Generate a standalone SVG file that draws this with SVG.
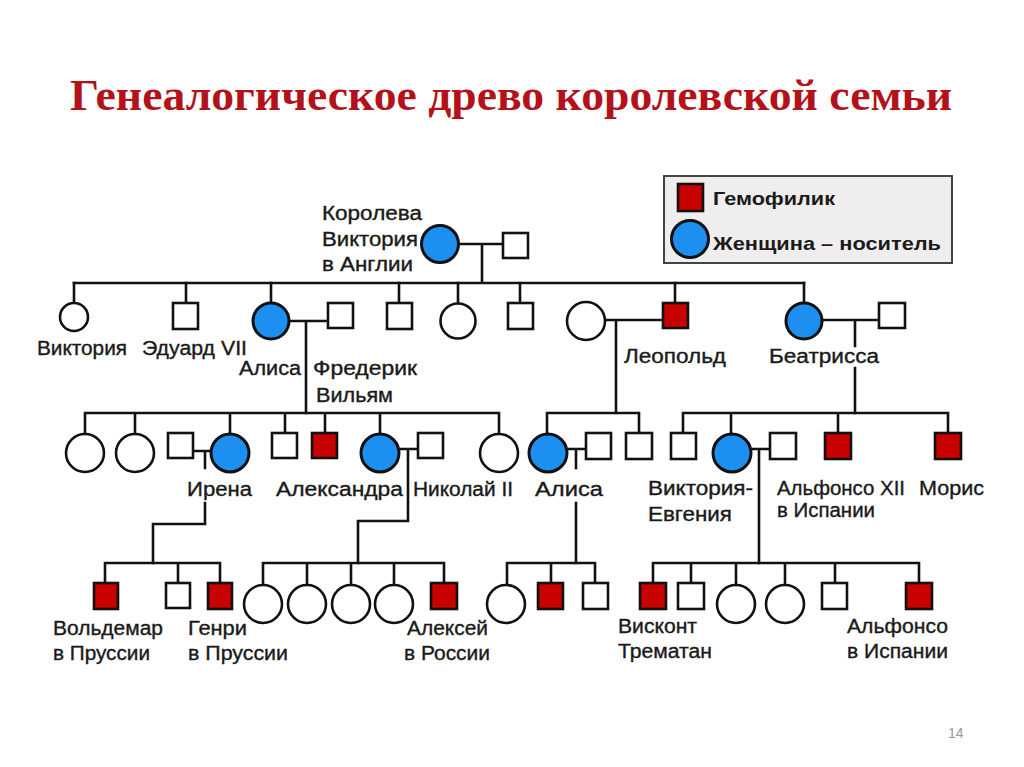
<svg xmlns="http://www.w3.org/2000/svg" width="1024" height="767" viewBox="0 0 1024 767">
<style>
.ln{fill:none;stroke:#111;stroke-width:2.6;stroke-linecap:square}
.m{fill:#fff;stroke:#111;stroke-width:2.6}
.f{fill:#fff;stroke:#111;stroke-width:2.6}
.h{fill:#c80000;stroke:#111;stroke-width:2.6}
.c{fill:#1c8ff0;stroke:#111;stroke-width:3}
.t{font-family:"Liberation Sans",Arial,sans-serif;font-size:19.5px;fill:#1a1a1a;stroke:#1a1a1a;stroke-width:0.35}
.lg{font-family:"Liberation Sans",Arial,sans-serif;font-size:19px;font-weight:bold;fill:#1a1a1a}
</style>
<rect width="1024" height="767" fill="#fff"/>
<text x="70" y="110" font-family="'Liberation Serif','Times New Roman',serif" font-size="44" font-weight="bold" fill="#b3121a" textLength="882" lengthAdjust="spacingAndGlyphs">Генеалогическое древо королевской семьи</text>
<text x="948" y="738" font-family="'Liberation Sans',Arial,sans-serif" font-size="14" fill="#999">14</text>

<g id="legend">
<rect x="664" y="176" width="288" height="87" fill="#efeded" stroke="#444" stroke-width="2"/>
<rect x="678" y="184" width="25" height="27" class="h"/>
<text class="lg" x="713" y="205" textLength="122" lengthAdjust="spacingAndGlyphs">Гемофилик</text>
<circle cx="690" cy="239" r="18.5" class="c"/>
<text class="lg" x="713" y="250" textLength="228" lengthAdjust="spacingAndGlyphs">Женщина – носитель</text>
</g>

<g id="connectors" class="ln">
<path d="M458 244H503M482 244V283M74 283H804"/>
<path d="M74 283V303M186 283V303M271 283V303M399 283V303M458 283V303M520 283V303M675 283V303M804 283V303"/>
<path d="M289 321H328M306 321V413M605 320H663M616 320V413M822 320H879M855 320V346M855 368V413"/>
<path d="M85 413H499M85 413V434M135 413V434M230 413V434M285 413V433M325 413V433M380 413V434M499 413V434"/>
<path d="M547 413H639M547 413V434M639 413V433M683 413H948M683 413V433M731 413V434M838 413V433M948 413V433"/>
<path d="M193 451H211M205 451V468M205 503V524H153V563M399 449H418M408 449V521H358V563"/>
<path d="M567 449H586M576 449V468M576 503V563M751 449H770M759 449V563"/>
<path d="M105 563H220M105 563V583M178 563V583M220 563V583"/>
<path d="M263 563H444M263 563V585M307 563V585M351 563V585M394 563V585M444 563V583"/>
<path d="M507 563H595M507 563V585M551 563V583M595 563V583"/>
<path d="M653 563H919M653 563V583M691 563V583M736 563V585M785 563V585M835 563V583M919 563V583"/>
</g>

<g id="queen-victoria"><circle cx="440" cy="244" r="18.5" class="c"/>
<text class="t" x="322" y="220" textLength="100" lengthAdjust="spacingAndGlyphs">Королева</text>
<text class="t" x="322" y="246" textLength="96" lengthAdjust="spacingAndGlyphs">Виктория</text>
<text class="t" x="322" y="271" textLength="91" lengthAdjust="spacingAndGlyphs">в Англии</text></g>
<g id="albert"><rect x="503" y="233" width="25" height="25" class="m"/></g>

<g id="victoria"><circle cx="74" cy="317" r="14" class="f"/>
<text class="t" x="37" y="355" textLength="90" lengthAdjust="spacingAndGlyphs">Виктория</text></g>
<g id="edward-vii"><rect x="173" y="303" width="25" height="26" class="m"/>
<text class="t" x="142" y="355" textLength="105" lengthAdjust="spacingAndGlyphs">Эдуард VII</text></g>
<g id="alice"><circle cx="271" cy="321" r="18" class="c"/>
<text class="t" x="239" y="375" textLength="62" lengthAdjust="spacingAndGlyphs">Алиса</text></g>
<g id="frederick"><rect x="328" y="303" width="25" height="25" class="m"/>
<text class="t" x="313" y="375" textLength="104" lengthAdjust="spacingAndGlyphs">Фредерик</text>
<text class="t" x="316" y="402" textLength="77" lengthAdjust="spacingAndGlyphs">Вильям</text></g>
<g id="son-a"><rect x="387" y="303" width="25" height="26" class="m"/></g>
<g id="daughter-a"><circle cx="458" cy="321" r="17.5" class="f"/></g>
<g id="son-b"><rect x="508" y="303" width="25" height="26" class="m"/></g>
<g id="leopold-wife"><circle cx="586" cy="321" r="19" class="f"/></g>
<g id="leopold"><rect x="663" y="303" width="25" height="25" class="h"/>
<text class="t" x="624" y="363" textLength="102" lengthAdjust="spacingAndGlyphs">Леопольд</text></g>
<g id="beatrice"><circle cx="804" cy="321" r="18" class="c"/>
<text class="t" x="769" y="363" textLength="110" lengthAdjust="spacingAndGlyphs">Беатрисса</text></g>
<g id="beatrice-husband"><rect x="879" y="303" width="26" height="25" class="m"/></g>

<g id="g3-d1"><circle cx="85" cy="453" r="19" class="f"/></g>
<g id="g3-d2"><circle cx="135" cy="453" r="19" class="f"/></g>
<g id="irena-husband"><rect x="168" y="433" width="25" height="25" class="m"/></g>
<g id="irena"><circle cx="230" cy="453" r="19" class="c"/>
<text class="t" x="187" y="496" textLength="65" lengthAdjust="spacingAndGlyphs">Ирена</text></g>
<g id="g3-s1"><rect x="272" y="433" width="25" height="25" class="m"/></g>
<g id="g3-h1"><rect x="312" y="433" width="25" height="25" class="h"/></g>
<g id="alexandra"><circle cx="380" cy="453" r="19" class="c"/>
<text class="t" x="276" y="496" textLength="127" lengthAdjust="spacingAndGlyphs">Александра</text></g>
<g id="nicholas-ii"><rect x="418" y="433" width="25" height="25" class="m"/>
<text class="t" x="413" y="496" textLength="100" lengthAdjust="spacingAndGlyphs">Николай II</text></g>
<g id="g3-d3"><circle cx="499" cy="453" r="19" class="f"/></g>
<g id="alice-2"><circle cx="548" cy="453" r="19" class="c"/>
<text class="t" x="535" y="496" textLength="68" lengthAdjust="spacingAndGlyphs">Алиса</text></g>
<g id="alice-2-husband"><rect x="586" y="433" width="25" height="26" class="m"/></g>
<g id="g3-s2"><rect x="626" y="433" width="26" height="26" class="m"/></g>
<g id="g3-s3"><rect x="671" y="433" width="25" height="26" class="m"/></g>
<g id="victoria-eugenie"><circle cx="732" cy="453" r="19" class="c"/>
<text class="t" x="648" y="495" textLength="105" lengthAdjust="spacingAndGlyphs">Виктория-</text>
<text class="t" x="648" y="521" textLength="84" lengthAdjust="spacingAndGlyphs">Евгения</text></g>
<g id="alfonso-xiii"><rect x="770" y="433" width="26" height="26" class="m"/>
<text class="t" x="777" y="495" textLength="128" lengthAdjust="spacingAndGlyphs">Альфонсо XII</text>
<text class="t" x="777" y="517" textLength="98" lengthAdjust="spacingAndGlyphs">в Испании</text></g>
<g id="g3-h2"><rect x="825" y="433" width="26" height="26" class="h"/></g>
<g id="maurice"><rect x="935" y="433" width="26" height="26" class="h"/>
<text class="t" x="919" y="495" textLength="65" lengthAdjust="spacingAndGlyphs">Морис</text></g>

<g id="waldemar"><rect x="94" y="583" width="24" height="26" class="h"/>
<text class="t" x="53" y="635" textLength="110" lengthAdjust="spacingAndGlyphs">Вольдемар</text>
<text class="t" x="53" y="660" textLength="97" lengthAdjust="spacingAndGlyphs">в Пруссии</text></g>
<g id="g4-s1"><rect x="166" y="583" width="24" height="25" class="m"/></g>
<g id="henry"><rect x="208" y="583" width="24" height="26" class="h"/>
<text class="t" x="188" y="635" textLength="59" lengthAdjust="spacingAndGlyphs">Генри</text>
<text class="t" x="188" y="660" textLength="100" lengthAdjust="spacingAndGlyphs">в Пруссии</text></g>
<g id="g4-d1"><circle cx="263" cy="604" r="19" class="f"/></g>
<g id="g4-d2"><circle cx="307" cy="604" r="19" class="f"/></g>
<g id="g4-d3"><circle cx="351" cy="604" r="19" class="f"/></g>
<g id="g4-d4"><circle cx="394" cy="604" r="19" class="f"/></g>
<g id="alexei"><rect x="431" y="583" width="26" height="26" class="h"/>
<text class="t" x="407" y="635" textLength="81" lengthAdjust="spacingAndGlyphs">Алексей</text>
<text class="t" x="404" y="660" textLength="86" lengthAdjust="spacingAndGlyphs">в России</text></g>
<g id="g4-d5"><circle cx="506" cy="604" r="19" class="f"/></g>
<g id="g4-h1"><rect x="538" y="583" width="25" height="26" class="h"/></g>
<g id="g4-s2"><rect x="583" y="583" width="25" height="26" class="m"/></g>
<g id="trematon"><rect x="640" y="583" width="26" height="26" class="h"/>
<text class="t" x="618" y="633" textLength="79" lengthAdjust="spacingAndGlyphs">Висконт</text>
<text class="t" x="618" y="658" textLength="94" lengthAdjust="spacingAndGlyphs">Трематан</text></g>
<g id="g4-s3"><rect x="678" y="583" width="26" height="26" class="m"/></g>
<g id="g4-d6"><circle cx="736" cy="604" r="19" class="f"/></g>
<g id="g4-d7"><circle cx="785" cy="604" r="19" class="f"/></g>
<g id="g4-s4"><rect x="822" y="583" width="25" height="26" class="m"/></g>
<g id="alfonso"><rect x="906" y="583" width="26" height="26" class="h"/>
<text class="t" x="847" y="633" textLength="101" lengthAdjust="spacingAndGlyphs">Альфонсо</text>
<text class="t" x="847" y="658" textLength="101" lengthAdjust="spacingAndGlyphs">в Испании</text></g>
</svg>
